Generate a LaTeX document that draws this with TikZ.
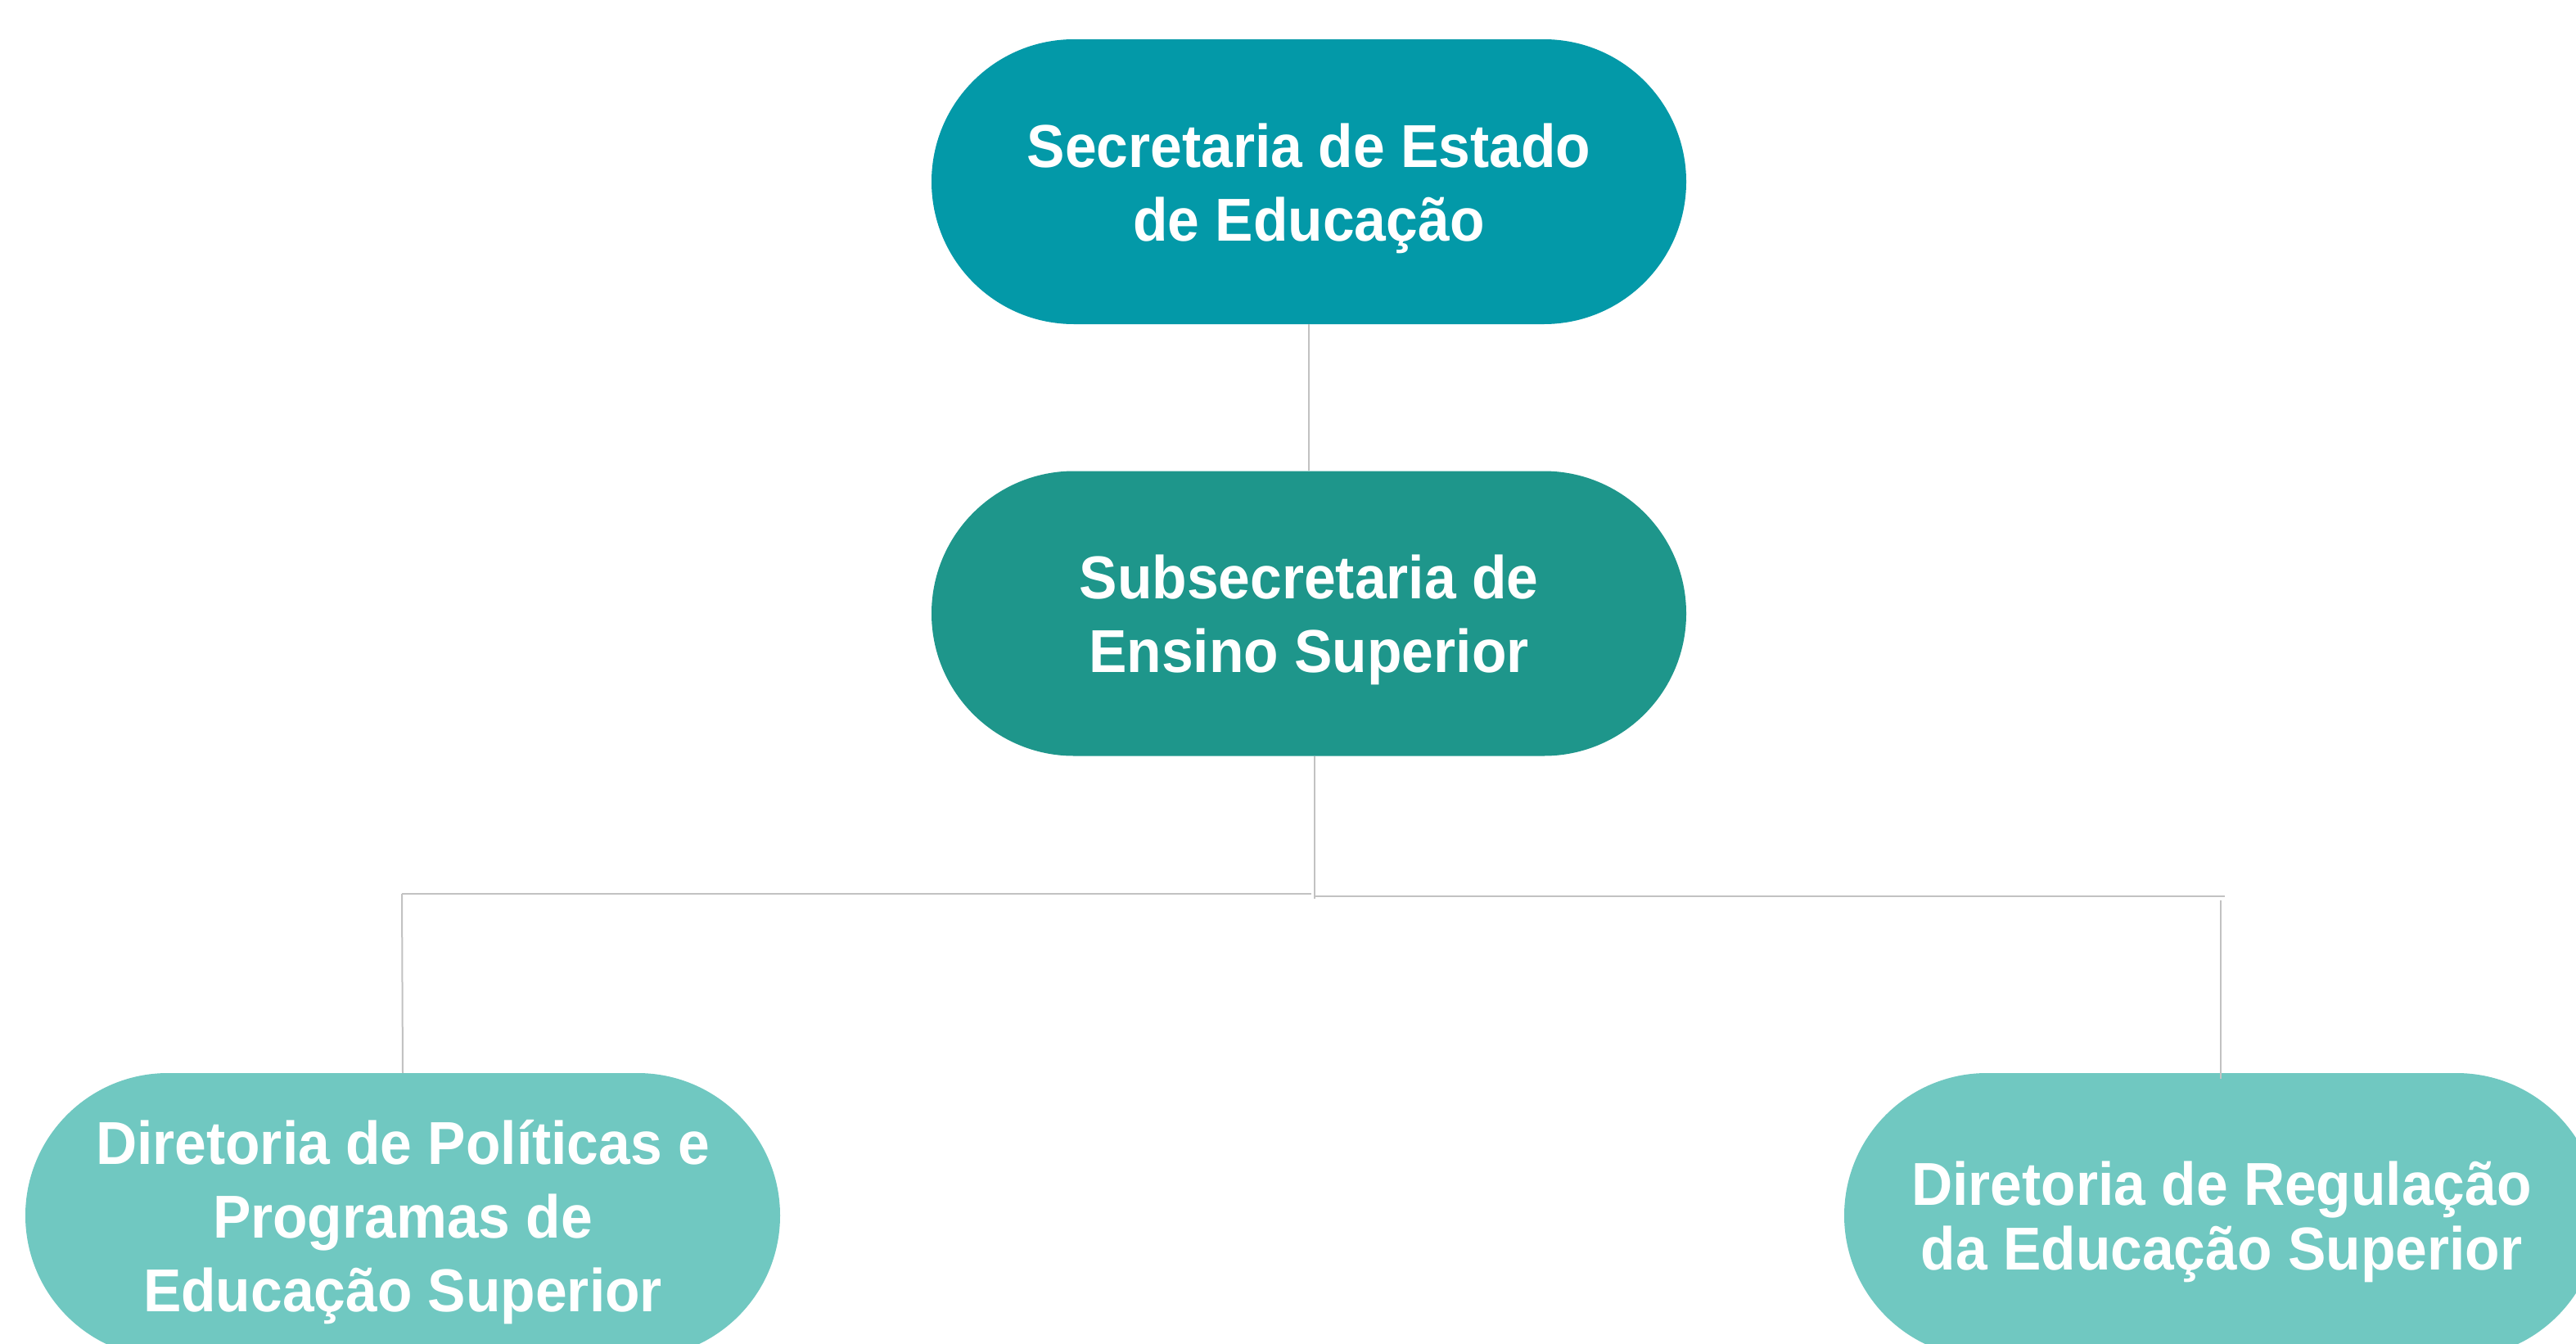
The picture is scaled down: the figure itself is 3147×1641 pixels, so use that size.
\documentclass[tikz,border=0pt]{standalone}
\usepackage{fontspec}
\newfontfamily\lblfont[FakeStretch=0.94]{Liberation Sans}
\definecolor{cTop}{HTML}{0399A8}
\definecolor{cMid}{HTML}{1E968B}
\definecolor{cLow}{HTML}{70C8C1}
\definecolor{cLine}{HTML}{C2C2C2}
\tikzset{
  pill/.style={rectangle, rounded corners=174pt, minimum width=922pt, minimum height=348pt,
    inner sep=0pt},
  pilltext/.style={text=white, align=center, yshift=-8pt, inner sep=0pt,
    font=\lblfont\bfseries\fontsize{74}{90}\selectfont},
  conn/.style={draw=cLine, line width=2pt},
  hconn/.style={draw=cLine, line width=2.6pt},
}
\begin{document}
\begin{tikzpicture}[x=1pt,y=-1pt]
\useasboundingbox (0,0) rectangle (3147,1641);
\fill[white] (0,0) rectangle (3147,1641);
\node[pill, fill=cTop, label={[pilltext]center:{Secretaria de Estado\\de Educação}}] (sec) at (1599,222) {};
\node[pill, fill=cMid, label={[pilltext]center:{Subsecretaria de\\Ensino Superior}}] (sub) at (1599,749.5) {};
\coordinate (jl) at (1602,1092);
\coordinate (jr) at (1605,1095);
\coordinate (jb) at (1606,1098);
\coordinate (lt) at (491,1092);
\coordinate (rt) at (2718,1095);
\coordinate (rv) at (2713,1100);
\draw[conn] (sec.south) -- (sub.north);
\draw[conn] ([xshift=7pt]sub.south) -- (jb);
\draw[hconn] (lt) -- (jl);
\draw[hconn] (jr) -- (rt);
\node[pill, fill=cLow, label={[pilltext]center:{Diretoria de Políticas e\\Programas de\\Educação Superior}}] (dpp) at (492,1485) {};
\node[pill, fill=cLow, label={[pilltext, font=\lblfont\bfseries\fontsize{74}{79}\selectfont]center:{Diretoria de Regulação\\da Educação Superior}}] (dre) at (2714,1485) {};
\draw[conn] (lt) -- (dpp.north);
\draw[conn] (rv) -- ([yshift=-7pt]dre.north -| rv);
\end{tikzpicture}
\end{document}
